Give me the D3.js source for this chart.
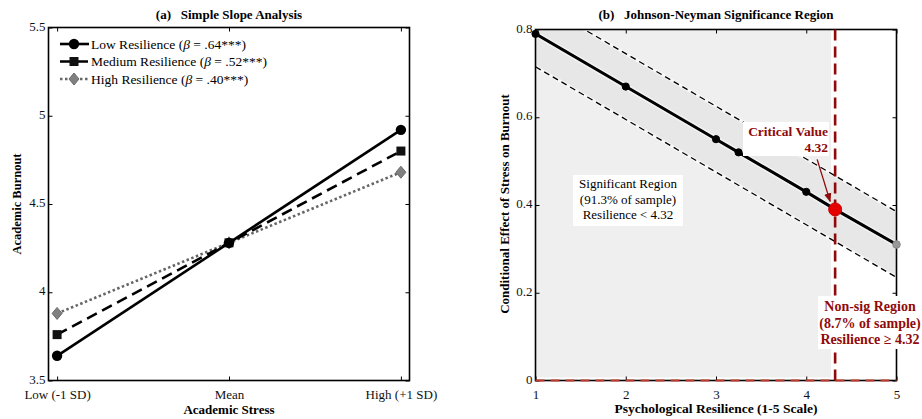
<!DOCTYPE html>
<html>
<head>
<meta charset="utf-8">
<script src="https://cdn.jsdelivr.net/npm/d3@7"></script>
<style>
  body { margin: 0; background: #fff; }
  svg { font-family: "Liberation Serif", "Times New Roman", serif; }
  .tick text { font-size: 13px; font-family: "Liberation Serif", serif; }
  .axis path { display: none; }
  .axis line { stroke: #000; stroke-width: 1; }
</style>
</head>
<body>
<div class="chart"></div>
<script>
// panel (a) simple slopes
const stressLevels = ["Low (-1 SD)", "Mean", "High (+1 SD)"];
const lowRes = [3.64, 4.28, 4.92];
const medRes = [3.76, 4.28, 4.80];
const highRes = [3.88, 4.28, 4.68];
const slopeNames = ["Low Resilience", "Medium Resilience", "High Resilience"];
const slopeBetas = [".64***", ".52***", ".40***"];
const burnoutTicks = [3.5, 4, 4.5, 5, 5.5];

// panel (b) johnson-neyman
const resilience = [1, 2, 3, 3.25, 4, 4.32, 5];
const effect = [0.79, 0.67, 0.55, 0.52, 0.43, 0.39, 0.31];
const ciX = [1, 5];
const ciUpper = [0.865, 0.385];
const ciLower = [0.715, 0.235];
const criticalValue = 4.32;
const effectTicks = [0, 0.2, 0.4, 0.6, 0.8];
const resTicks = [1, 2, 3, 4, 5];

const W = 922, H = 419;
const darkRed = "#8f0a0a";

const svg = d3.select(".chart").append("svg")
    .attr("width", W).attr("height", H);

// ---------- panel a ----------
let xA = d3.scaleLinear().domain([0.95, 3.05]).range([48.5, 409.5]);
let yA = d3.scaleLinear().domain([3.5, 5.5]).range([380.5, 27.5]);

function drawFrame(x, y, xticks, yticks, xfmt, yfmt) {
    let g = svg.append("g");
    g.append("g").attr("class", "axis")
        .attr("transform", `translate(0,${y.range()[0]})`)
        .call(d3.axisBottom(x).tickValues(xticks).tickFormat(xfmt).tickSize(-4).tickPadding(9));
    g.append("g").attr("class", "axis")
        .attr("transform", `translate(0,${y.range()[1]})`)
        .call(d3.axisTop(x).tickValues(xticks).tickFormat("").tickSize(-4));
    let ly = g.append("g").attr("class", "axis")
        .attr("transform", `translate(${x.range()[0]},0)`)
        .call(d3.axisLeft(y).tickValues(yticks).tickFormat(yfmt).tickSize(-4).tickPadding(3));
    ly.selectAll(".tick text").attr("dy", "0.2em");
    g.append("g").attr("class", "axis")
        .attr("transform", `translate(${x.range()[1]},0)`)
        .call(d3.axisRight(y).tickValues(yticks).tickFormat("").tickSize(-4));
    g.append("rect")
        .attr("x", x.range()[0]).attr("y", y.range()[1])
        .attr("width", x.range()[1] - x.range()[0])
        .attr("height", y.range()[0] - y.range()[1])
        .attr("fill", "none").attr("stroke", "#000").attr("stroke-width", 1.6);
    g.selectAll(".tick text").attr("fill", "#111");
    return g;
}

drawFrame(xA, yA, [1, 2, 3], burnoutTicks, (d, i) => stressLevels[i], d3.format(""));

const seriesA = [
    {vals: lowRes, dash: null, color: "#000", marker: "circle"},
    {vals: medRes, dash: "11,6", color: "#000", marker: "square"},
    {vals: highRes, dash: "2.5,2.5", color: "#666", marker: "diamond"}
];

let lineA = d3.line().x((d, i) => xA(i + 1)).y(d => yA(d));

function marker(g, type, cx, cy, color) {
    if (type == "circle") {
        g.append("circle").attr("cx", cx).attr("cy", cy).attr("r", 5.2).attr("fill", color);
    } else if (type == "square") {
        g.append("rect").attr("x", cx - 4.5).attr("y", cy - 4.5).attr("width", 9).attr("height", 9)
            .attr("fill", "#111");
    } else {
        g.append("path").attr("d", `M${cx},${cy - 6}L${cx + 5},${cy}L${cx},${cy + 6}L${cx - 5},${cy}Z`)
            .attr("fill", "#808080").attr("stroke", "#6a6a6a");
    }
}

// draw high first so low ends on top
seriesA.slice().reverse().forEach(s => {
    svg.append("path")
        .attr("d", lineA(s.vals))
        .attr("fill", "none")
        .attr("stroke", s.color)
        .attr("stroke-width", 2.6)
        .attr("stroke-dasharray", s.dash);
    s.vals.forEach((v, i) => marker(svg, s.marker, xA(i + 1), yA(v), s.color));
});

// legend
let leg = svg.append("g");
seriesA.forEach((s, i) => {
    let ly = 44 + i * 17.5;
    leg.append("line").attr("x1", 60).attr("x2", 89).attr("y1", ly).attr("y2", ly)
        .attr("stroke", s.color).attr("stroke-width", 2.6).attr("stroke-dasharray", s.dash);
    marker(leg, s.marker, 74, ly, s.color);
    let t = leg.append("text").attr("x", 91).attr("y", ly + 4.5).attr("font-size", 13.5);
    t.append("tspan").text(slopeNames[i] + " (");
    t.append("tspan").attr("font-style", "italic").text("β");
    t.append("tspan").text(" = " + slopeBetas[i] + ")");
});

svg.append("text").attr("x", 229).attr("y", 19).attr("text-anchor", "middle")
    .attr("font-size", 13).attr("font-weight", "bold").attr("xml:space", "preserve")
    .text("(a)   Simple Slope Analysis");
svg.append("text").attr("x", 229).attr("y", 414).attr("text-anchor", "middle")
    .attr("font-size", 13).attr("font-weight", "bold").text("Academic Stress");
svg.append("text").attr("transform", "translate(21,204) rotate(-90)").attr("text-anchor", "middle")
    .attr("font-size", 12.5).attr("font-weight", "bold").text("Academic Burnout");

// ---------- panel b ----------
let xB = d3.scaleLinear().domain([1, 5]).range([535.5, 896.5]);
let yB = d3.scaleLinear().domain([0, 0.8]).range([380.5, 29.5]);

svg.append("clipPath").attr("id", "clipB").append("rect")
    .attr("x", xB(1)).attr("y", yB(0.8)).attr("width", xB(5) - xB(1)).attr("height", yB(0) - yB(0.8));

let plotB = svg.append("g").attr("clip-path", "url(#clipB)");

// significant region shading
plotB.append("rect")
    .attr("x", xB(1)).attr("y", yB(0.8))
    .attr("width", xB(criticalValue) - xB(1) - 4)
    .attr("height", yB(0) - yB(0.8) - 3)
    .attr("fill", "#efefef");

// confidence band
let band = d3.area().x(d => xB(d)).y0((d, i) => yB(ciLower[i])).y1((d, i) => yB(ciUpper[i]));
plotB.append("path").attr("d", band(ciX)).attr("fill", "#e7e7e7");

// text box for significant region
let sigBox = svg.append("g");
sigBox.append("rect").attr("x", 573).attr("y", 175).attr("width", 110).attr("height", 51).attr("fill", "#fff");
["Significant Region", "(91.3% of sample)", "Resilience < 4.32"].forEach((s, i) => {
    sigBox.append("text").attr("x", 628).attr("y", 188 + i * 15.7).attr("text-anchor", "middle")
        .attr("font-size", 13).text(s);
});

// CI lines
let ciLine = d3.line().x(d => xB(d[0])).y(d => yB(d[1]));
[ciUpper, ciLower].forEach(arr => {
    plotB.append("path").attr("d", ciLine(ciX.map((x, i) => [x, arr[i]])))
        .attr("fill", "none").attr("stroke", "#fff").attr("stroke-width", 3.5).attr("opacity", 0.6);
    plotB.append("path").attr("d", ciLine(ciX.map((x, i) => [x, arr[i]])))
        .attr("fill", "none").attr("stroke", "#000").attr("stroke-width", 1.3)
        .attr("stroke-dasharray", "6,4");
});

// effect line
let effLine = d3.line().x((d, i) => xB(resilience[i])).y(d => yB(d));
plotB.append("path").attr("d", effLine(effect))
    .attr("fill", "none").attr("stroke", "#fff").attr("stroke-width", 6).attr("opacity", 0.5);
plotB.append("path").attr("d", effLine(effect))
    .attr("fill", "none").attr("stroke", "#000").attr("stroke-width", 3);

drawFrame(xB, yB, resTicks, effectTicks, d3.format(""), d3.format(""));

// critical value line and zero line
svg.append("line").attr("x1", xB(criticalValue)).attr("x2", xB(criticalValue))
    .attr("y1", yB(0.8)).attr("y2", yB(0))
    .attr("stroke", darkRed).attr("stroke-width", 2.6).attr("stroke-dasharray", "11,6");
svg.append("line").attr("x1", xB(1)).attr("x2", xB(5)).attr("y1", yB(0)).attr("y2", yB(0))
    .attr("stroke", "#c0392b").attr("stroke-width", 2).attr("stroke-dasharray", "9,6");

// points
resilience.forEach((r, i) => {
    let crit = r == criticalValue, last = i == resilience.length - 1;
    svg.append("circle").attr("cx", xB(r)).attr("cy", yB(effect[i]))
        .attr("r", crit ? 6.5 : (last ? 3.8 : 3.6))
        .attr("fill", crit ? "#e50000" : (last ? "#999" : "#000"))
        .attr("stroke", crit ? "#c00" : (last ? "#888" : "#000"));
});

// critical value annotation
let cx = xB(criticalValue), cy = yB(effect[resilience.indexOf(criticalValue)]);
svg.append("defs").append("marker").attr("id", "arrow")
    .attr("viewBox", "0 0 10 10").attr("refX", 9).attr("refY", 5)
    .attr("markerWidth", 7).attr("markerHeight", 7).attr("orient", "auto")
    .append("path").attr("d", "M0,1L10,5L0,9Z").attr("fill", darkRed);
svg.append("rect").attr("x", 743).attr("y", 122).attr("width", 86).attr("height", 34).attr("fill", "#fff");
svg.append("text").attr("x", 828).attr("y", 136).attr("text-anchor", "end")
    .attr("font-size", 13.5).attr("font-weight", "bold").attr("fill", darkRed).text("Critical Value");
svg.append("text").attr("x", 828).attr("y", 152).attr("text-anchor", "end")
    .attr("font-size", 13.5).attr("font-weight", "bold").attr("fill", darkRed).text("4.32");
svg.append("line").attr("x1", cx - 18).attr("y1", cy - 50).attr("x2", cx - 5).attr("y2", cy - 8)
    .attr("stroke", darkRed).attr("stroke-width", 1.3).attr("marker-end", "url(#arrow)");

// non-sig annotation
svg.append("rect").attr("x", 818).attr("y", 296).attr("width", 104).attr("height", 53).attr("fill", "#fff");
["Non-sig Region", "(8.7% of sample)", "Resilience ≥ 4.32"].forEach((s, i) => {
    svg.append("text").attr("x", 870).attr("y", 311 + i * 16.5).attr("text-anchor", "middle")
        .attr("font-size", 14).attr("font-weight", "bold").attr("fill", darkRed).text(s);
});

svg.append("text").attr("x", 716).attr("y", 19).attr("text-anchor", "middle")
    .attr("font-size", 13).attr("font-weight", "bold").attr("xml:space", "preserve")
    .text("(b)   Johnson-Neyman Significance Region");
svg.append("text").attr("x", 716).attr("y", 413).attr("text-anchor", "middle")
    .attr("font-size", 13.5).attr("font-weight", "bold").text("Psychological Resilience (1-5 Scale)");
svg.append("text").attr("transform", "translate(509,204) rotate(-90)").attr("text-anchor", "middle")
    .attr("font-size", 13).attr("font-weight", "bold").text("Conditional Effect of Stress on Burnout");
</script>
</body>
</html>
